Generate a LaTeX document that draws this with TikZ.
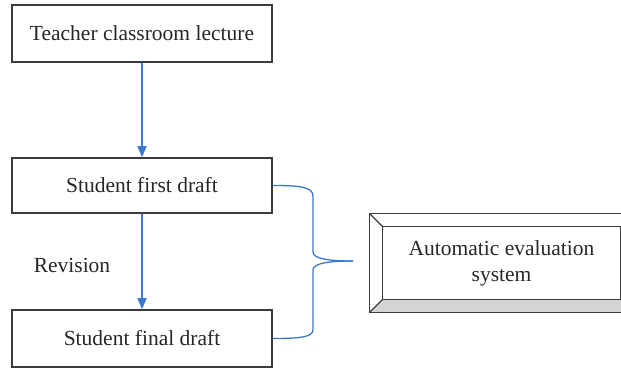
\documentclass[tikz,border=0pt]{standalone}
\usepackage{fontspec}
\setmainfont{Liberation Serif}
\usetikzlibrary{arrows.meta,calc}
\definecolor{flowblue}{HTML}{3A7BC8}
\definecolor{edgegray}{HTML}{3C3C3C}
\definecolor{bevelgray}{HTML}{D4D4D4}
\tikzset{
  stage/.style={draw=edgegray, line width=1.6pt, minimum width=260pt, inner sep=0pt,
    font=\fontsize{21.5}{26}\selectfont, text=black!85},
  flow/.style={draw=flowblue, line width=1.3pt, -{Triangle[length=11pt,width=9pt]}},
  bracket/.style={draw=flowblue, line width=1.3pt},
  bevel/.style={draw=edgegray, line width=1.3pt, line join=miter}
}

\begin{document}
\begin{tikzpicture}[x=1pt, y=-1pt]
\newcommand{\Bx}{313};
\newcommand{\Bv}{13};
\useasboundingbox (0,0) rectangle (621,370);

% the three stages
\node[stage, minimum height=57pt] (lecture) at (142,33.5) {Teacher classroom lecture};
\node[stage, minimum height=55pt] (first) at (142,185.5) {Student first draft};
\node[stage, minimum height=57pt] (final) at (142,338.5) {Student final draft};
\node[font=\fontsize{21.5}{26}\selectfont, text=black!85] (revision) at (72,265) {Revision};

\draw[flow] (lecture) -- (first);
\draw[flow] (first) -- (final);

% bevelled box, cut off at the right
\node[font=\fontsize{21.5}{26}\selectfont, text=black!85, align=center,
      minimum width=237pt, minimum height=72pt, inner sep=0pt] (eval) at (501.5,263)
      {Automatic evaluation\\system};
\coordinate (Onw) at ($(eval.north west)+(-\Bv,-\Bv)$);
\coordinate (Osw) at ($(eval.south west)+(-\Bv,\Bv)$);
\coordinate (One) at ($(eval.north east)+(\Bv,-\Bv)$);
\coordinate (Ose) at ($(eval.south east)+(\Bv,\Bv)$);
\fill[bevelgray] (eval.south west) -- (Osw) -- (Ose) -- (eval.south east) -- cycle;
\draw[bevel] (Onw) rectangle (Ose);
\draw[bevel] (eval.north west) rectangle (eval.south east);
\draw[bevel] (Onw) -- (eval.north west);
\draw[bevel] (Osw) -- (eval.south west);

% brace joining both drafts to the box
\coordinate (tip) at (353,261);
\draw[bracket] (first.east) .. controls (300,185.5) and (\Bx,187) .. (\Bx,196)
  -- (\Bx,252) .. controls (\Bx,259) and (330,261) .. (tip);
\draw[bracket] (tip) .. controls (330,261) and (\Bx,263) .. (\Bx,270)
  -- (\Bx,330) .. controls (\Bx,337) and (300,338.5) .. (final.east);
\end{tikzpicture}
\end{document}
